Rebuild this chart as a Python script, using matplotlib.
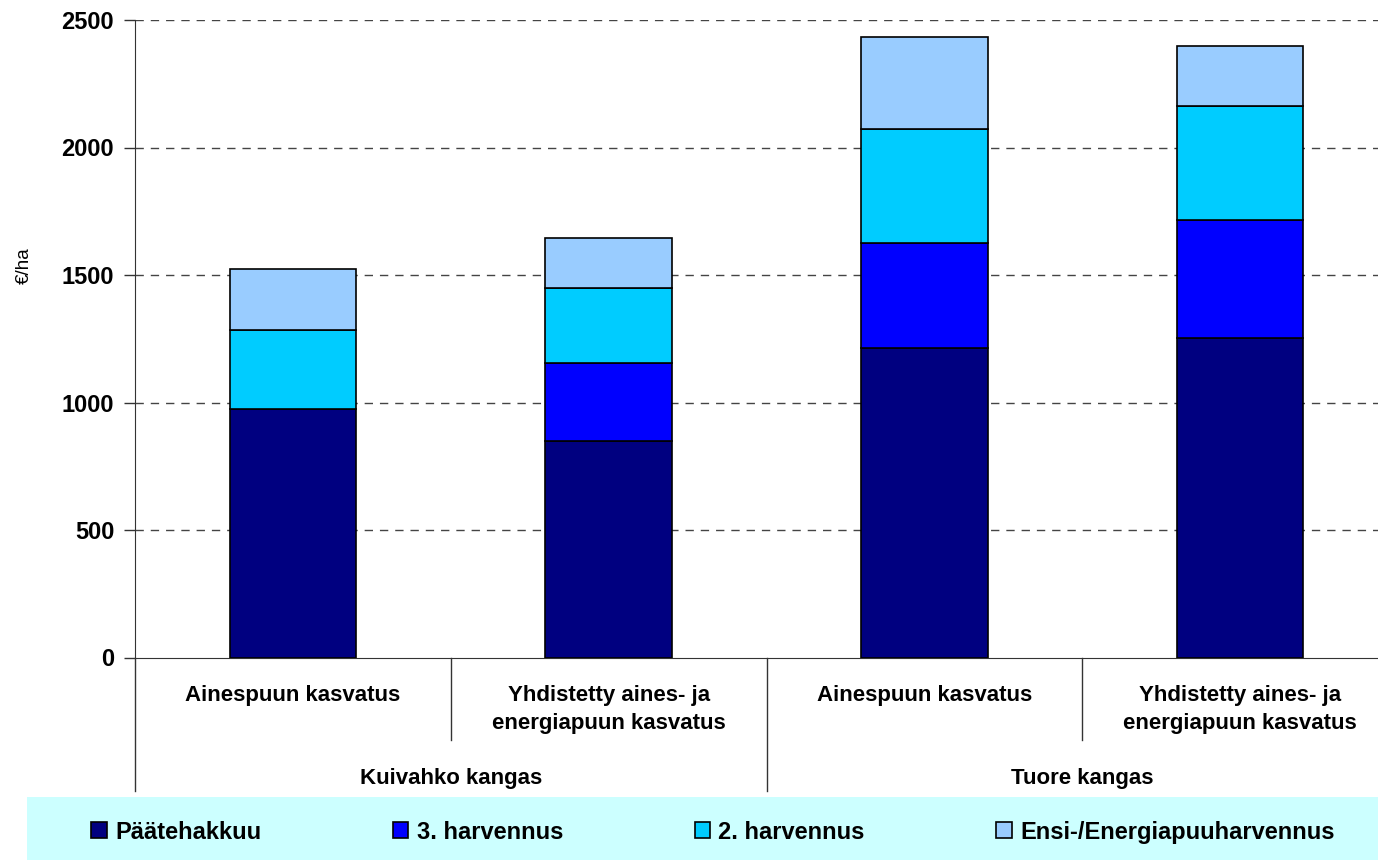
import numpy as np
import matplotlib.pyplot as plt
from matplotlib.patches import Rectangle

plt.rcParams['font.family'] = ['Liberation Sans', 'DejaVu Sans']

# data
sub_labels = ['Ainespuun kasvatus', 'Yhdistetty aines- ja\nenergiapuun kasvatus',
              'Ainespuun kasvatus', 'Yhdistetty aines- ja\nenergiapuun kasvatus']
group_labels = ['Kuivahko kangas', 'Tuore kangas']
series_names = ['Päätehakkuu', '3. harvennus', '2. harvennus', 'Ensi-/Energiapuuharvennus']
paatehakkuu = [975, 850, 1212, 1251]
harvennus3 = [0, 305, 415, 465]
harvennus2 = [308, 295, 446, 447]
ensi = [241, 195, 362, 235]
colors = ['#000080', '#0000FF', '#00CCFF', '#99CCFF']
yticks = [0, 500, 1000, 1500, 2000, 2500]

W, H = 1378, 860
fig = plt.figure(figsize=(W / 100, H / 100), dpi=100)
# plot area in pixels: x 135..1398, y 20..657.5 (runs past the right edge like the source)
ax = fig.add_axes([135 / W, (H - 657.5) / H, 1263 / W, 637.5 / H])

x = np.arange(len(sub_labels))
bottom = np.zeros(len(x))
bars = []
for vals, col, name in zip([paatehakkuu, harvennus3, harvennus2, ensi], colors, series_names):
    b = ax.bar(x, vals, 0.4, bottom=bottom, color=col, edgecolor='black',
               linewidth=1.2, label=name, zorder=3)
    bars.append(b)
    bottom += np.array(vals)

ax.set_xlim(-0.5, 3.5)
ax.set_ylim(0, 2500)
ax.set_yticks(yticks)
ax.set_yticklabels([str(t) for t in yticks], fontsize=17, fontweight='bold')
ax.tick_params(axis='y', direction='out', length=8, width=1, pad=7, color='#333333')
ax.set_xticks([])
for t in yticks[1:]:
    ax.axhline(t, color='#444444', linestyle=(0, (6, 5)), linewidth=1, zorder=1)

for s in ['top', 'right']:
    ax.spines[s].set_visible(False)
ax.spines['left'].set_color('#333333')
ax.spines['bottom'].set_color('#333333')

ax.set_ylabel('€/ha', fontsize=13.5)
ax.yaxis.set_label_coords(-0.081, 0.614)

# category separators below the axis
trans = ax.get_xaxis_transform()
ax.plot([0.5, 0.5], [0, -0.13], transform=trans, color='#333333', lw=1, clip_on=False)
ax.plot([2.5, 2.5], [0, -0.13], transform=trans, color='#333333', lw=1, clip_on=False)
for gx in [-0.5, 1.5, 3.5]:
    ax.plot([gx, gx], [0, -0.21], transform=trans, color='#333333', lw=1, clip_on=False)

for xi, lab in zip(x, sub_labels):
    ax.text(xi, -0.043, lab, transform=trans, ha='center', va='top', fontsize=16,
            fontweight='bold', linespacing=1.45)
for gi, lab in enumerate(group_labels):
    ax.text(0.5 + 2 * gi, -0.19, lab, transform=trans, ha='center', va='center',
            fontsize=16, fontweight='bold')

# legend strip
fig.patches.append(Rectangle((27 / W, 0), 1 - 27 / W, (H - 797) / H, transform=fig.transFigure,
                             facecolor='#CCFFFF', edgecolor='none', zorder=0))
fig.legend(handles=bars, labels=series_names, ncol=4, loc='lower left',
           bbox_to_anchor=(82 / W, 7 / H, 1262 / W, 42 / H), mode='expand',
           frameon=False, prop={'size': 17, 'weight': 'bold'},
           handlelength=0.65, handleheight=0.65, handletextpad=0.35, borderaxespad=0)

fig.savefig('out.png', dpi=100)
